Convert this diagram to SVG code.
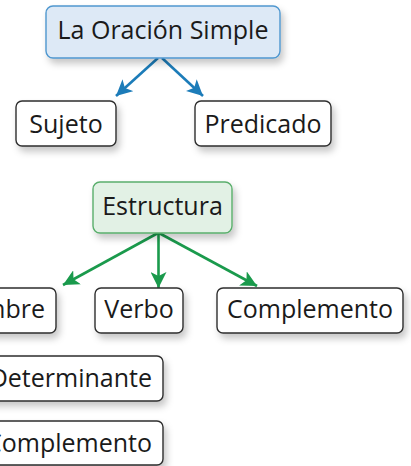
<svg xmlns="http://www.w3.org/2000/svg" width="411" height="466" viewBox="0 0 411 466">
<style>
  .box { fill: #ffffff; stroke: #2e2e2e; stroke-width: 1.4; filter: url(#sh); }
  .blue { fill: #dde9f6; stroke: #4f97cf; stroke-width: 1.4; filter: url(#sh); }
  .green { fill: #e2f1e5; stroke: #5aae6c; stroke-width: 1.4; filter: url(#sh); }
  text { font-family: "Open Sans", "Liberation Sans", sans-serif; font-size: 25px; fill: #1a1a1a; }
  .c { text-anchor: middle; }
  .e { text-anchor: end; }
  .lb { stroke: #1c7cb9; stroke-width: 2.6; fill: none; }
  .lg { stroke: #1a9a4c; stroke-width: 2.6; fill: none; }
</style>
<defs>
  <filter id="sh" x="-20%" y="-30%" width="150%" height="180%">
    <feDropShadow dx="3" dy="5" stdDeviation="3.5" flood-color="#000" flood-opacity="0.22"/>
  </filter>
  <marker id="ab" markerUnits="userSpaceOnUse" markerWidth="18" markerHeight="16" refX="16" refY="8" orient="auto">
    <path d="M0,0 L16,8 L0,16 L4,8 Z" fill="#1c7cb9"/>
  </marker>
  <marker id="ag" markerUnits="userSpaceOnUse" markerWidth="18" markerHeight="16" refX="16" refY="8" orient="auto">
    <path d="M0,0 L16,8 L0,16 L4,8 Z" fill="#1a9a4c"/>
  </marker>
</defs>

<g id="connectors">
  <line class="lb" x1="158" y1="58" x2="116" y2="96" marker-end="url(#ab)"/>
  <line class="lb" x1="162" y1="58" x2="203" y2="96" marker-end="url(#ab)"/>
  <line class="lg" x1="158" y1="233" x2="63" y2="285" marker-end="url(#ag)"/>
  <line class="lg" x1="158.5" y1="233" x2="158.5" y2="288" marker-end="url(#ag)"/>
  <line class="lg" x1="159" y1="233" x2="257" y2="286" marker-end="url(#ag)"/>
</g>

<g id="oracion">
  <rect class="blue" x="46" y="6" width="234" height="52" rx="7"/>
  <text class="c" x="163" y="39" font-size="24">La Oración Simple</text>
</g>
<g id="sujeto">
  <rect class="box" x="16" y="101" width="100" height="45" rx="6"/>
  <text class="c" x="66" y="133">Sujeto</text>
</g>
<g id="predicado">
  <rect class="box" x="195" y="101" width="136" height="45" rx="6"/>
  <text class="c" x="263" y="133">Predicado</text>
</g>
<g id="estructura">
  <rect class="green" x="93" y="182" width="139" height="51" rx="7"/>
  <text class="c" x="162.5" y="215">Estructura</text>
</g>
<g id="nombre">
  <rect class="box" x="-64" y="288" width="120" height="45" rx="6"/>
  <text class="e" x="45" y="318">Nombre</text>
</g>
<g id="verbo">
  <rect class="box" x="95" y="288" width="88" height="45" rx="6"/>
  <text class="c" x="139" y="318">Verbo</text>
</g>
<g id="complemento">
  <rect class="box" x="217" y="288" width="186" height="45" rx="6"/>
  <text class="c" x="310" y="318">Complemento</text>
</g>
<g id="determinante">
  <rect class="box" x="-30" y="356" width="193" height="45" rx="6"/>
  <text class="e" x="152" y="387">Determinante</text>
</g>
<g id="complemento2">
  <rect class="box" x="-30" y="421" width="193" height="44" rx="6"/>
  <text class="e" x="152" y="452">Complemento</text>
</g>
</svg>
